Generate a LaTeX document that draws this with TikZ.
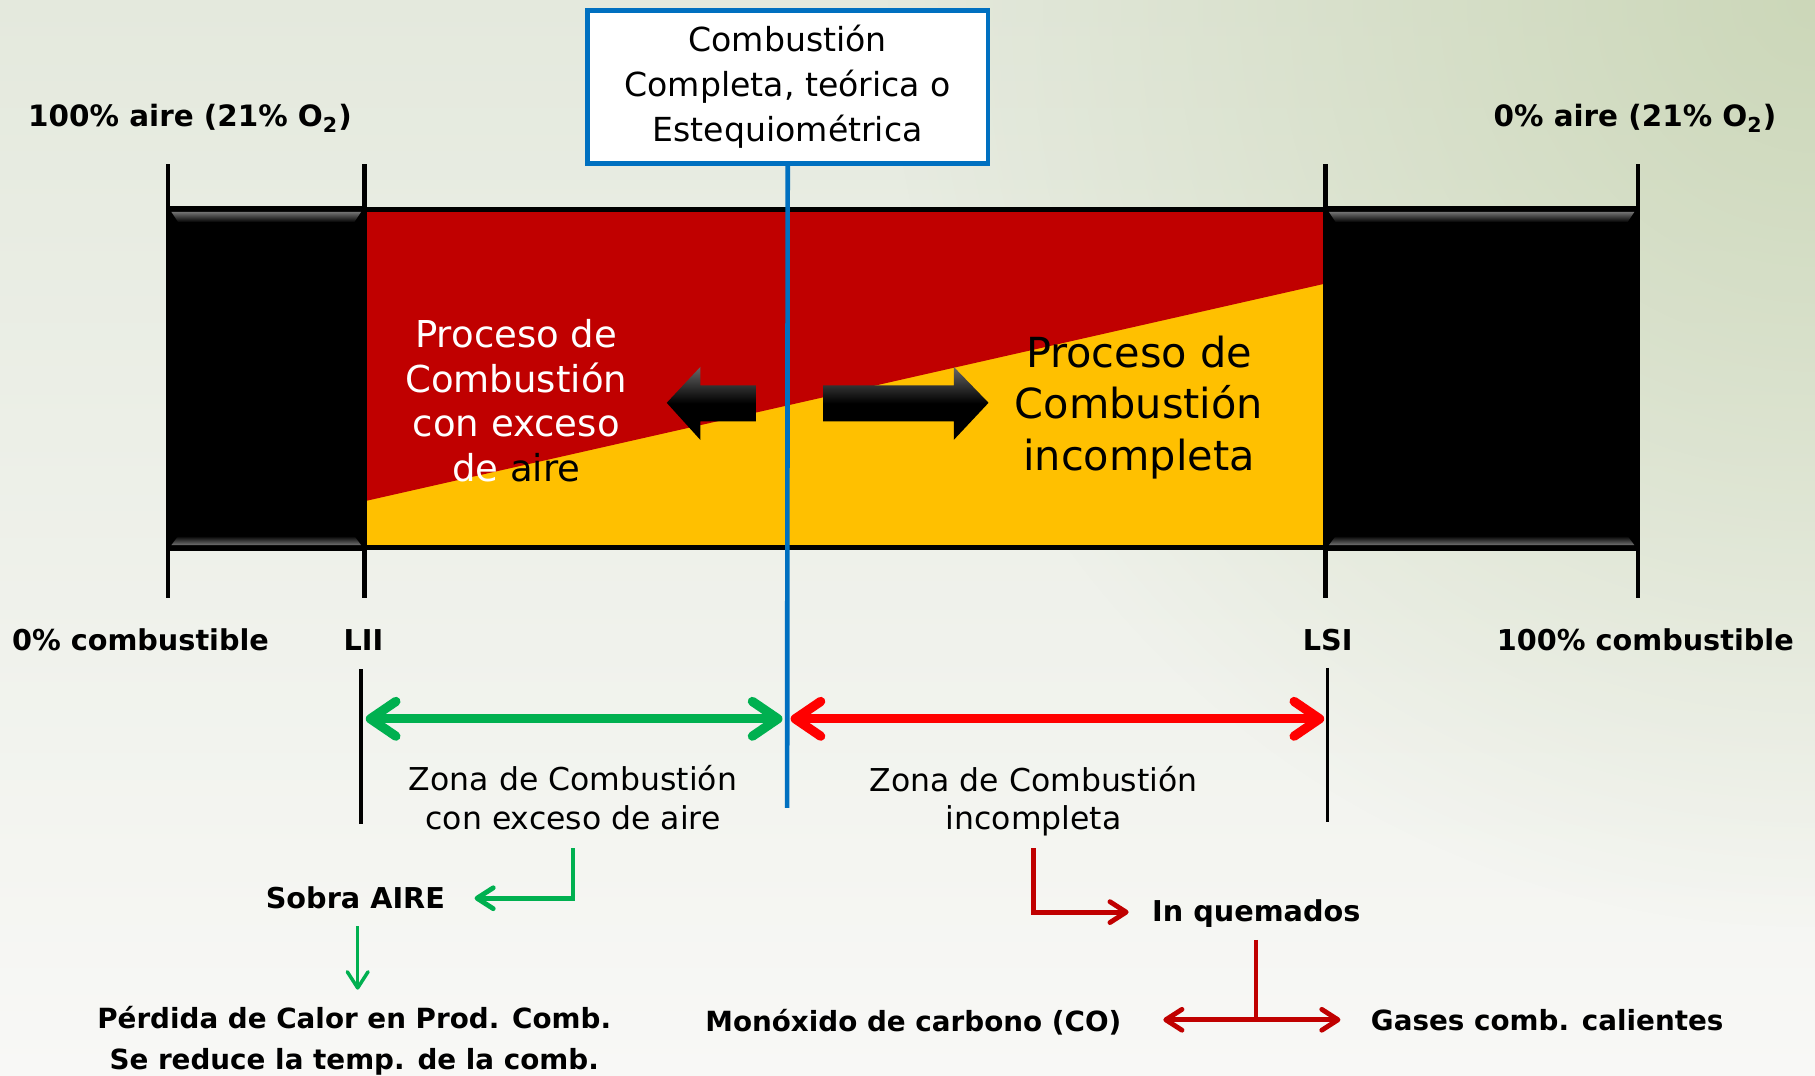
\documentclass[tikz,border=0pt]{standalone}
\usepackage{fontspec}
\setmainfont{DejaVu Sans}
\usetikzlibrary{arrows.meta,fadings}
\definecolor{bgtop}{HTML}{E4E9DD}
\definecolor{bgbot}{HTML}{F8F8F6}
\definecolor{bgtint}{HTML}{C6D3B0}
\definecolor{myred}{HTML}{C00000}
\definecolor{myyellow}{HTML}{FFC000}
\definecolor{myblue}{HTML}{0070C0}
\definecolor{mygreen}{HTML}{00B050}
\definecolor{brightred}{HTML}{FF0000}
\tikzfading[name=myglow,inner color=transparent!20,outer color=transparent!100]
\begin{document}
\begin{tikzpicture}[x=0.5pt,y=-0.5pt,
  tick/.style={line width=2pt,black},
  blabel/.style={font=\fontsize{12.4}{15}\selectfont\bfseries,inner sep=0pt},
  slabel/.style={font=\fontsize{12.0}{15}\selectfont\bfseries,inner sep=0pt},
  toplabel/.style={font=\fontsize{12.7}{15}\selectfont\bfseries,inner sep=0pt},
  zona/.style={font=\fontsize{13.6}{16.5}\selectfont,align=center,inner sep=0pt},
  bighead/.style={Straight Barb[length=11pt,width=15pt,round]},
  smallhead/.style={Straight Barb[length=7pt,width=9pt,round]},
  dblgreen/.style={mygreen,line width=4pt,{Straight Barb[length=11pt,width=15pt,round]}-{Straight Barb[length=11pt,width=15pt,round]}},
  dblred/.style={brightred,line width=4pt,{Straight Barb[length=11pt,width=15pt,round]}-{Straight Barb[length=11pt,width=15pt,round]}},
  elbow/.style={line width=2.1pt,-{Straight Barb[length=7pt,width=9pt,round]}},
  blockarrow/.style={top color=black!60,bottom color=black,middle color=black}
]
\useasboundingbox (0,0) rectangle (1568,929);
% background
\shade[top color=bgtop,middle color=bgbot!60!bgtop,bottom color=bgbot] (0,0) rectangle (1568,929);
\fill[bgtint,path fading=myglow] (1568,0) circle (800);

% colour band
\fill[myyellow] (315,182) rectangle (1145,472);
\fill[myred] (315,182) -- (1145,182) -- (1145,245) -- (315,433) -- cycle;
\draw[line width=2pt] (315,181) -- (1145,181);
\draw[line width=2pt] (315,473) -- (1145,473);
% black blocks
\fill[black] (145,178) rectangle (315,476);
\fill[black] (1145,178) rectangle (1415,476);
\shade[top color=black!55,bottom color=black] (148,183) -- (312,183) -- (306,192) -- (154,192) -- cycle;
\shade[top color=black,bottom color=black!55] (154,463) -- (306,463) -- (312,471) -- (148,471) -- cycle;
\shade[top color=black!55,bottom color=black] (1148,183) -- (1412,183) -- (1406,192) -- (1154,192) -- cycle;
\shade[top color=black,bottom color=black!55] (1154,463) -- (1406,463) -- (1412,471) -- (1148,471) -- cycle;
% ticks
\draw[tick] (145,142) -- (145,517);
\draw[tick] (315,142) -- (315,517);
\draw[tick] (1145,142) -- (1145,517);
\draw[tick] (1415,142) -- (1415,517);

% block arrows
\shade[blockarrow] (576,348) -- (605,317) -- (605,333) -- (653,333) -- (653,364) -- (605,364) -- (605,380) -- cycle;
\shade[blockarrow] (854,348) -- (824,317) -- (824,333) -- (711,333) -- (711,364) -- (824,364) -- (824,380) -- cycle;

% process texts
\node[font=\fontsize{16}{19.25}\selectfont,align=center,text=white,inner sep=0pt] (excesotxt) at (446,346)
  {Proceso de\\Combustión\\con exceso\\de \textcolor{black}{aire}};
\node[font=\fontsize{17.9}{22.25}\selectfont,align=center,inner sep=0pt] (incomptxt) at (984,352)
  {Proceso de\\Combustión\\incompleta};

% top box and blue line
\node[draw=myblue,line width=2pt,fill=white,minimum width=173pt,minimum height=66pt,
  font=\fontsize{14.3}{19.5}\selectfont,align=center] (box) at (680.5,75)
  {Combustión\\Completa, teórica o\\Estequiométrica};
\coordinate (blueend) at (680,698);
\draw[myblue,line width=2pt] (box.south) -- (blueend);

% top labels
\node[toplabel,anchor=west] (aire100) at (24,102) {100\% aire (21\% O\textsubscript{2})};
\node[toplabel,anchor=east] (aire0) at (1535,102) {0\% aire (21\% O\textsubscript{2})};
% bottom labels of the band
\node[blabel,anchor=west] (comb0) at (10,553) {0\% combustible};
\node[blabel] (lii) at (314,553) {LII};
\node[blabel] (lsi) at (1147,553) {LSI};
\node[blabel,anchor=east] (comb100) at (1550,553) {100\% combustible};

% zone limits
\coordinate (liiTop) at (312,578);
\coordinate (liiBot) at (312,712);
\coordinate (lsiTop) at (1147,577);
\coordinate (lsiBot) at (1147,710);
\draw[line width=1.5pt] (liiTop) -- (liiBot);
\draw[line width=1.5pt] (lsiTop) -- (lsiBot);
\coordinate (gL) at (316,621);
\coordinate (gR) at (676,621);
\coordinate (rL) at (683,621);
\coordinate (rR) at (1144,621);
\draw[dblgreen] (gL) -- (gR);
\draw[dblred] (rL) -- (rR);

\node[zona] (zona1) at (495,689) {Zona de Combustión\\con exceso de aire};
\node[zona] (zona2) at (893,692) {Zona de Combustión\\incompleta};

% green branch
\node[blabel] (sobra) at (307,776) {Sobra AIRE};
\node[slabel,align=center,font=\fontsize{12.0}{18}\selectfont\bfseries] (perdida) at (306,899)
  {Pérdida de Calor en Prod. Comb.\\Se reduce la temp. de la comb.};
\coordinate (z1out) at (495,733);
\coordinate (sobraIn) at (410,776);
\draw[elbow,mygreen] (z1out) |- (sobraIn);
\coordinate (sobraOut) at (309,800);
\coordinate (perdIn) at (309,855);
\draw[mygreen,line width=1.5pt,-{Straight Barb[length=7pt,width=9pt,round]}] (sobraOut) -- (perdIn);

% red branch
\node[blabel,anchor=west] (inq) at (995,789) {In quemados};
\coordinate (z2out) at (893,733);
\coordinate (inqIn) at (975,788);
\draw[elbow,myred] (z2out) |- (inqIn);
\node[slabel,anchor=west] (mono) at (609,883) {Monóxido de carbono (CO)};
\node[slabel,anchor=west] (gases) at (1184,881) {Gases comb. calientes};
\coordinate (inqOut) at (1085,812);
\coordinate (split) at (1085,881);
\coordinate (monoIn) at (1005,881);
\coordinate (gasesIn) at (1158,881);
\draw[myred,line width=2.1pt] (inqOut) -- (split);
\draw[myred,line width=2.1pt,{Straight Barb[length=7pt,width=9pt,round]}-{Straight Barb[length=7pt,width=9pt,round]}] (monoIn) -- (gasesIn);
\end{tikzpicture}
\end{document}
